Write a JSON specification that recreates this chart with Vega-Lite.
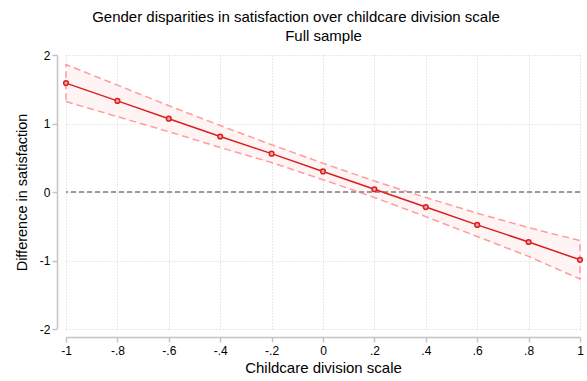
{
  "$schema": "https://vega.github.io/schema/vega-lite/v6.json",
  "width": 514,
  "height": 274,
  "autosize": "none",
  "padding": {"left": 66, "top": 55, "right": 7, "bottom": 52},
  "background": "white",
  "config": {
    "view": {"stroke": null},
    "font": "Liberation Sans",
    "title": {"font": "Liberation Sans"}
  },
  "title": {
    "text": "Gender disparities in satisfaction over childcare division scale",
    "fontSize": 15,
    "fontWeight": "normal",
    "color": "#000000",
    "anchor": "middle",
    "frame": "group",
    "dx": -27,
    "offset": 3
  },
  "resolve": {"axis": {"x": "independent"}},
  "data": {
    "values": [
      {"x": -1.0, "est": 1.59, "lo": 1.32, "hi": 1.86},
      {"x": -0.8, "est": 1.33, "lo": 1.10, "hi": 1.56},
      {"x": -0.6, "est": 1.07, "lo": 0.88, "hi": 1.26},
      {"x": -0.4, "est": 0.81, "lo": 0.65, "hi": 0.97},
      {"x": -0.2, "est": 0.56, "lo": 0.43, "hi": 0.69},
      {"x": 0.0, "est": 0.30, "lo": 0.18, "hi": 0.42},
      {"x": 0.2, "est": 0.04, "lo": -0.08, "hi": 0.16},
      {"x": 0.4, "est": -0.22, "lo": -0.36, "hi": -0.08},
      {"x": 0.6, "est": -0.48, "lo": -0.65, "hi": -0.31},
      {"x": 0.8, "est": -0.73, "lo": -0.94, "hi": -0.52},
      {"x": 1.0, "est": -0.99, "lo": -1.27, "hi": -0.71}
    ]
  },
  "layer": [
    {
      "mark": {"type": "area", "fill": "#fff4f4", "stroke": "#ff9c9c", "strokeWidth": 1.5, "strokeDash": [7, 4]},
      "encoding": {
        "x": {
          "field": "x", "type": "quantitative",
          "scale": {"domain": [-1, 1], "nice": false, "zero": false},
          "axis": {
            "title": "Childcare division scale",
            "values": [-1, -0.8, -0.6, -0.4, -0.2, 0, 0.2, 0.4, 0.6, 0.8, 1],
            "format": ".1~f",
            "labelExpr": "replace(replace(datum.label, '\u2212', '-'), '0.', '.')",
            "offset": 8,
            "domainColor": "#c4c4c4",
            "domainWidth": 1.5,
            "tickColor": "#c4c4c4",
            "tickWidth": 1.5,
            "tickSize": 5,
            "labelFontSize": 12,
            "labelColor": "#000000",
            "labelPadding": 3,
            "labelFlush": false,
            "titleFontSize": 15,
            "titleFontWeight": "normal",
            "titleColor": "#000000",
            "titlePadding": 4,
            "grid": true,
            "gridColor": "#d2d2d2",
            "gridDash": [1, 2],
            "gridWidth": 1
          }
        },
        "y": {
          "field": "lo", "type": "quantitative",
          "scale": {"domain": [-2, 2], "nice": false, "zero": false},
          "axis": {
            "title": "Difference in satisfaction",
            "values": [-2, -1, 0, 1, 2],
            "format": "d",
            "labelExpr": "replace(datum.label, '\u2212', '-')",
            "offset": 9,
            "domainColor": "#c4c4c4",
            "domainWidth": 1.5,
            "tickColor": "#c4c4c4",
            "tickWidth": 1.5,
            "tickSize": 5,
            "labelFontSize": 12,
            "labelColor": "#000000",
            "labelAngle": 0,
            "labelPadding": 2,
            "labelFlush": false,
            "titleFontSize": 14.5,
            "titleFontWeight": "normal",
            "titleColor": "#000000",
            "titlePadding": 10,
            "grid": true,
            "gridColor": "#d2d2d2",
            "gridDash": [1, 2],
            "gridWidth": 1
          }
        },
        "y2": {"field": "hi"}
      }
    },
    {
      "mark": {"type": "rule", "color": "#9a9a9a", "strokeWidth": 1.5, "strokeDash": [5, 3]},
      "encoding": {"y": {"datum": 0, "type": "quantitative"}}
    },
    {
      "mark": {"type": "line", "color": "#d92020", "strokeWidth": 1.5},
      "encoding": {
        "x": {"field": "x", "type": "quantitative", "axis": null},
        "y": {"field": "est", "type": "quantitative"}
      }
    },
    {
      "mark": {"type": "point", "filled": false, "shape": "circle", "size": 22, "stroke": "#d92020", "strokeWidth": 1.5, "fill": "#f5a5a5", "fillOpacity": 1, "opacity": 1},
      "encoding": {
        "x": {
          "field": "x", "type": "quantitative",
          "axis": {
            "orient": "top",
            "title": "Full sample",
            "labels": false,
            "ticks": false,
            "domain": false,
            "grid": false,
            "titleFontSize": 15,
            "titleFontWeight": "normal",
            "titleColor": "#000000",
            "titlePadding": 12
          }
        },
        "y": {"field": "est", "type": "quantitative"}
      }
    }
  ]
}
